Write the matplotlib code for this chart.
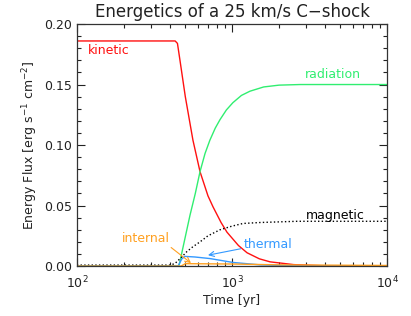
import numpy as np
import matplotlib
matplotlib.use('Agg')
import matplotlib.pyplot as plt
from matplotlib.ticker import MultipleLocator, LogLocator, NullFormatter

# Dados (tempo em anos, fluxo em erg s^-1 cm^-2)
t_kin = [100, 430, 445, 462, 500, 560, 622, 700, 754, 850, 928, 1100, 1250, 1500, 1758, 2500, 4000, 10000]
f_kin = [0.186, 0.186, 0.184, 0.170, 0.140, 0.104, 0.078, 0.058, 0.049, 0.036, 0.028, 0.017, 0.011, 0.006, 0.0035, 0.0012, 0.0002, 0.0]

t_rad = [100, 455, 536, 580, 622, 670, 720, 780, 837, 920, 1013, 1150, 1306, 1600, 2010, 2750, 10000]
f_rad = [0.0, 0.0, 0.042, 0.060, 0.078, 0.093, 0.104, 0.114, 0.121, 0.129, 0.135, 0.141, 0.1445, 0.148, 0.1495, 0.150, 0.150]

t_mag = [100, 398, 428, 470, 512, 560, 622, 700, 837, 1000, 1177, 1516, 2623, 10000]
f_mag = [0.0008, 0.0008, 0.002, 0.007, 0.012, 0.016, 0.020, 0.025, 0.030, 0.033, 0.0352, 0.036, 0.037, 0.037]

t_th = [100, 449, 475, 498, 577, 721, 1013, 1516, 2500, 10000]
f_th = [0.0, 0.0, 0.006, 0.008, 0.0075, 0.0062, 0.003, 0.001, 0.0002, 0.0]

t_int = [100, 470, 500, 1000, 2000, 10000]
f_int = [0.0, 0.0, 0.002, 0.0017, 0.001, 0.0005]

vermelho = '#ff1010'
verde = '#30ee70'
azul = '#3399ff'
laranja = '#ffa020'

fig = plt.figure(figsize=(4.11, 3.16), dpi=100)
ax = fig.add_axes([0.187, 0.158, 0.755, 0.766])

ax.plot(t_kin, f_kin, color=vermelho, lw=1.0)
ax.plot(t_rad, f_rad, color=verde, lw=1.0)
ax.plot(t_mag, f_mag, color='black', lw=1.0, linestyle=':')
ax.plot(t_th, f_th, color=azul, lw=1.0)
ax.plot(t_int, f_int, color=laranja, lw=1.0)

ax.set_xscale('log')
ax.set_xlim(100, 10000)
ax.set_ylim(0, 0.2)

ax.yaxis.set_major_locator(MultipleLocator(0.05))
ax.yaxis.set_minor_locator(MultipleLocator(0.01))
ax.yaxis.set_major_formatter(plt.FormatStrFormatter('%.2f'))
ax.xaxis.set_minor_locator(LogLocator(base=10, subs=np.arange(2, 10)))
ax.xaxis.set_minor_formatter(NullFormatter())

ax.tick_params(which='both', direction='in', top=True, right=True, labelsize=9, colors='#222222')
ax.tick_params(which='major', length=6, width=0.8)
ax.tick_params(which='minor', length=3, width=0.8)
ax.tick_params(axis='x', pad=6)
for s in ax.spines.values():
    s.set_linewidth(0.9)
    s.set_color('#333333')

ax.set_title('Energetics of a 25 km/s C\u2212shock', fontsize=12, color='#222222', pad=5)
ax.set_xlabel('Time [yr]', fontsize=9, color='#222222', labelpad=2)
ax.set_ylabel(r'Energy Flux [erg s$^{-1}$ cm$^{-2}$]', fontsize=9, color='#222222', labelpad=3)

# Rótulos das curvas
ax.text(161, 0.178, 'kinetic', color=vermelho, fontsize=9, ha='center', va='center')
ax.text(4500, 0.158, 'radiation', color=verde, fontsize=9, ha='center', va='center')
ax.text(4600, 0.042, 'magnetic', color='black', fontsize=9, ha='center', va='center')
ax.annotate('thermal', xy=(700, 0.009), xytext=(1705, 0.018), color=azul, fontsize=9,
            ha='center', va='center',
            arrowprops=dict(arrowstyle='->', color=azul, lw=0.8, shrinkA=0, shrinkB=0,
                            relpos=(0.0, 0.2)))
ax.annotate('internal', xy=(544, 0.0025), xytext=(279, 0.023), color=laranja, fontsize=9,
            ha='center', va='center',
            arrowprops=dict(arrowstyle='->', color=laranja, lw=0.8, shrinkA=0, shrinkB=0,
                            relpos=(0.95, 0.0)))

plt.savefig('out.png', dpi=100)
